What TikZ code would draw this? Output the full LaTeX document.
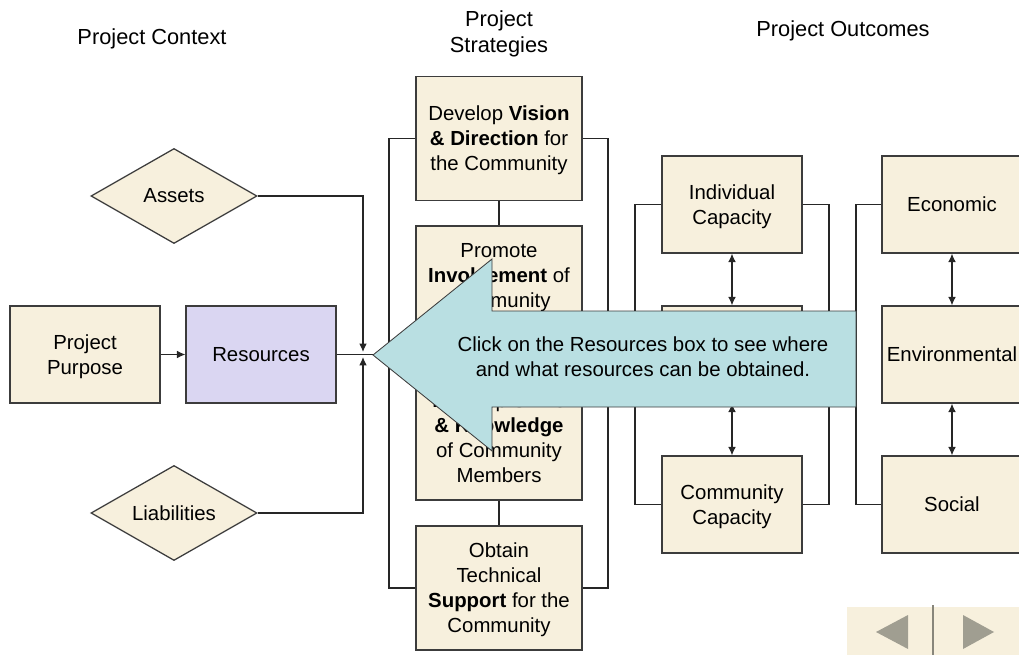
\documentclass[tikz,border=0pt]{standalone}
\usepackage{fontspec}
\setmainfont{Liberation Sans}
\usetikzlibrary{shapes.geometric,arrows.meta}

\definecolor{boxfill}{RGB}{247,240,221}
\definecolor{resfill}{RGB}{218,214,242}
\definecolor{callfill}{RGB}{185,223,226}
\definecolor{navgray}{RGB}{160,158,145}
\definecolor{edge}{RGB}{60,60,60}

\tikzset{
  pbox/.style={draw=edge, line width=0.9pt, fill=boxfill, align=center, inner sep=2pt, text depth=0pt},
  sbox/.style={pbox, minimum width=4.15cm, minimum height=3.1cm},
  cbox/.style={pbox, minimum width=3.5cm, minimum height=2.425cm},
  lbox/.style={pbox, minimum width=3.75cm, minimum height=2.425cm},
  dbox/.style={diamond, draw=edge, line width=0.9pt, fill=boxfill, aspect=1.75,
               minimum width=4.15cm, minimum height=2.375cm, inner sep=0pt},
  link/.style={line width=0.8pt, draw=black!85},
  tip/.style={link, -{Latex[length=6pt,width=5.5pt]}},
  twotip/.style={link, {Latex[length=6pt,width=5.5pt]}-{Latex[length=6pt,width=5.5pt]}},
  heading/.style={align=center, font=\fontsize{15.5}{18}\selectfont}
}

\begin{document}
\begin{tikzpicture}[x=0.025cm, y=-0.025cm]
                        \useasboundingbox (0,0) rectangle (1019,656);
                        \clip (0,0) rectangle (1019,656);
                        {\fontsize{14.5}{17.8}\selectfont

                        % Marking column headings
                        \node [heading] (hcontext) at (152,39) {Project Context};%
                        \node [heading] (hstrat) at (499,34) {Project\\Strategies};%
                        \node [heading] (houtcome) at (843,31) {Project Outcomes};%

                        % Drawing context nodes
                        \node [dbox] (assets) at (174,196) {Assets};%
                        \node [dbox] (liab) at (174,513) {Liabilities};%
                        \node [lbox] (purpose) at (85,354.5) {Project\\Purpose};%
                        \node [lbox, fill=resfill] (res) at (261,354.5) {Resources};%

                        % Drawing strategy boxes
                        \node [sbox] (s1) at (499,138.5) {Develop \textbf{Vision}\\\textbf{\& Direction} for\\the Community};%
                        \node [sbox] (s2) at (499,288) {Promote\\\textbf{Involvement} of\\Community\\\strut};%
                        \node [sbox] (s3) at (499,438) {Develop \textbf{Skills}\\\textbf{\& Knowledge}\\of Community\\Members};%
                        \node [sbox] (s4) at (499,588) {Obtain\\Technical\\\textbf{Support} for the\\Community};%

                        % Drawing capacity boxes
                        \node [cbox] (c1) at (732,204.5) {Individual\\Capacity};%
                        \node [cbox] (c2) at (732,354.5) {};%
                        \node [cbox] (c3) at (732,504.5) {Community\\Capacity};%

                        % Drawing outcome boxes
                        \node [cbox] (o1) at (952,204.5) {Economic};%
                        \node [cbox] (o2) at (952,354.5) {Environmental};%
                        \node [cbox] (o3) at (952,504.5) {Social};%

                        % Joints for the connectors
                        \coordinate (jtop) at (363,352);%
                        \coordinate (jbot) at (363,357);%
                        \coordinate (sbarL) at (389,354.5);%
                        \coordinate (sbarR) at (608,354.5);%
                        \coordinate (cbarL) at (635,354.5);%
                        \coordinate (cbarR) at (829,354.5);%
                        \coordinate (obarL) at (856,354.5);%

                        % Drawing context connectors
                        \draw [tip] (purpose.east) -- (res.west);%
                        \draw [link] (res.east) -- (sbarL);%
                        \draw [tip] (assets.east) -| (jtop);%
                        \draw [tip] (liab.east) -| (jbot);%

                        % Drawing strategy brackets and links
                        \draw [link] (s1.west) -| (sbarL) |- (s4.west);%
                        \draw [link] (s1.east) -| (sbarR) |- (s4.east);%
                        \draw [link] (s1.south) -- (s2.north);%
                        \draw [link] (s2.south) -- (s3.north);%
                        \draw [link] (s3.south) -- (s4.north);%

                        % Drawing capacity brackets and arrows
                        \draw [link] (c1.west) -| (cbarL) |- (c3.west);%
                        \draw [link] (c1.east) -| (cbarR) |- (c3.east);%
                        \draw [twotip] (c1.south) -- (c2.north);%
                        \draw [twotip] (c2.south) -- (c3.north);%

                        % Drawing outcome bracket and arrows
                        \draw [link] (o1.west) -| (obarL) |- (o3.west);%
                        \draw [twotip] (o1.south) -- (o2.north);%
                        \draw [twotip] (o2.south) -- (o3.north);%

                        % Drawing the callout arrow
                        \draw [fill=callfill, draw=edge, line width=0.6pt]
                          (373,355) -- (492,259) -- (492,311) -- (856,311)
                          -- (856,407) -- (492,407) -- (492,451) -- cycle;%
                        \node [align=center] (note) at (643,357)
                          {Click on the Resources box to see where\\and what resources can be obtained.};%

                        % Drawing the navigation buttons
                        \fill [boxfill] (847,607) rectangle (1019,655);%
                        \draw [navgray!85!black, line width=1.4pt] (933,605) -- (933,655);%
                        \fill [navgray] (876,632) -- (908,615) -- (908,649) -- cycle;%
                        \fill [navgray] (994,632) -- (963,615) -- (963,649) -- cycle;%
                        }
\end{tikzpicture}
\end{document}
